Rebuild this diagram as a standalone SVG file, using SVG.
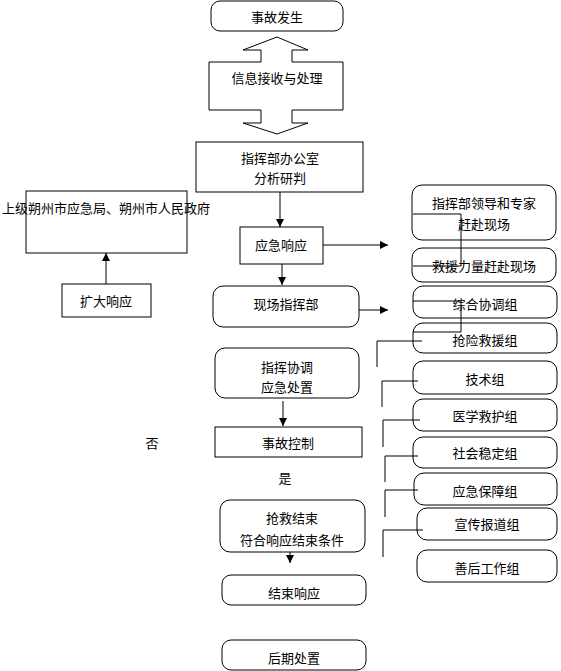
<svg xmlns="http://www.w3.org/2000/svg" width="561" height="671" viewBox="0 0 561 671">
<style>
.b{fill:#fff;stroke:#000;stroke-width:1}
.l{fill:none;stroke:#000;stroke-width:1}
text{font-family:"Noto Sans CJK SC","Noto Sans",sans-serif;font-size:13px;fill:#000;text-anchor:middle;dominant-baseline:central}
</style>
<defs>
<marker id="ah" viewBox="0 0 10 10" refX="10" refY="5" markerWidth="8" markerHeight="8" markerUnits="userSpaceOnUse" orient="auto">
<path d="M0,0 L10,5 L0,10 Z" fill="#000"/>
</marker>
</defs>
<rect width="561" height="671" fill="#fff"/>
<g id="connectors">
<line class="l" x1="280" y1="192" x2="280" y2="227" marker-end="url(#ah)"/>
<line class="l" x1="106" y1="284" x2="106" y2="253" marker-end="url(#ah)"/>
<line class="l" x1="323" y1="245" x2="388" y2="245" marker-end="url(#ah)"/>
<line class="l" x1="282" y1="264" x2="282" y2="285" marker-end="url(#ah)"/>
<line class="l" x1="359" y1="310" x2="388" y2="310" marker-end="url(#ah)"/>
<line class="l" x1="283" y1="401" x2="283" y2="426" marker-end="url(#ah)"/>
<line class="l" x1="290" y1="552" x2="290" y2="563" marker-end="url(#ah)"/>
<polyline class="l" points="413,214 461,214 461,266 413,266"/>
<polyline class="l" points="413,301 461,301 461,332 413,332"/>
<polyline class="l" points="377,367 377,341 422,341"/>
<polyline class="l" points="382,407 382,381 418,381"/>
<polyline class="l" points="383,447 383,420 420,420"/>
<polyline class="l" points="385,482 385,456 418,456"/>
<polyline class="l" points="385,517 385,490 418,490"/>
<polyline class="l" points="383,557 383,530 423,530"/>
</g>
<g id="n1"><rect class="b" x="211" y="1" width="132" height="30" rx="9"/><text x="277" y="16">事故发生</text></g>
<g id="n2"><polygon class="b" points="277,37 308,50 292,50 292,62 343,62 343,110 292,110 292,123 308,123 277,134 243,123 261,123 261,110 209,110 209,62 261,62 261,50 243,50"/><text x="277" y="77">信息接收与处理</text></g>
<g id="n3"><rect class="b" x="196" y="142" width="167" height="50"/><text x="280" y="157">指挥部办公室</text><text x="280" y="177">分析研判</text></g>
<g id="n4"><rect class="b" x="26" y="191" width="161" height="62"/><text x="106" y="207">上级朔州市应急局、朔州市人民政府</text></g>
<g id="n5"><rect class="b" x="62" y="284" width="89" height="33"/><text x="106" y="300">扩大响应</text></g>
<g id="n6"><rect class="b" x="240" y="227" width="83" height="37"/><text x="281" y="244">应急响应</text></g>
<g id="n7"><rect class="b" x="213" y="286" width="146" height="41" rx="10"/><text x="286" y="303">现场指挥部</text></g>
<g id="n8"><rect class="b" x="215" y="348" width="144" height="50" rx="10"/><text x="287" y="366">指挥协调</text><text x="287" y="386">应急处置</text></g>
<g id="n9"><rect class="b" x="215" y="427" width="147" height="30"/><text x="288" y="442">事故控制</text></g>
<text x="152" y="442">否</text>
<text x="285" y="477">是</text>
<g id="n10"><rect class="b" x="220" y="500" width="145" height="52" rx="10"/><text x="292" y="517">抢救结束</text><text x="292" y="539">符合响应结束条件</text></g>
<g id="n11"><rect class="b" x="222" y="575" width="144" height="30" rx="9"/><text x="294" y="592">结束响应</text></g>
<g id="n12"><rect class="b" x="222" y="640" width="144" height="30" rx="9"/><text x="294" y="657">后期处置</text></g>
<g id="r1"><rect class="b" x="412" y="185" width="144" height="55" rx="10" fill-opacity="0"/><text x="484" y="202">指挥部领导和专家</text><text x="484" y="223">赶赴现场</text></g>
<g id="r2"><rect class="b" x="412" y="248" width="144" height="34" rx="10" fill-opacity="0"/><text x="484" y="265">救援力量赶赴现场</text></g>
<g id="r3"><rect class="b" x="413" y="286" width="144" height="32" rx="10" fill-opacity="0"/><text x="485" y="303">综合协调组</text></g>
<g id="r4"><rect class="b" x="413" y="323" width="144" height="30" rx="10" fill-opacity="0"/><text x="485" y="339">抢险救援组</text></g>
<g id="r5"><rect class="b" x="413" y="361" width="144" height="33" rx="10" fill-opacity="0"/><text x="485" y="378">技术组</text></g>
<g id="r6"><rect class="b" x="413" y="399" width="144" height="32" rx="10" fill-opacity="0"/><text x="485" y="415">医学救护组</text></g>
<g id="r7"><rect class="b" x="413" y="437" width="144" height="31" rx="10" fill-opacity="0"/><text x="485" y="452">社会稳定组</text></g>
<g id="r8"><rect class="b" x="414" y="473" width="143" height="32" rx="10" fill-opacity="0"/><text x="485" y="490">应急保障组</text></g>
<g id="r9"><rect class="b" x="417" y="508" width="140" height="32" rx="10" fill-opacity="0"/><text x="487" y="523">宣传报道组</text></g>
<g id="r10"><rect class="b" x="417" y="550" width="140" height="32" rx="10" fill-opacity="0"/><text x="487" y="567">善后工作组</text></g>
</svg>
